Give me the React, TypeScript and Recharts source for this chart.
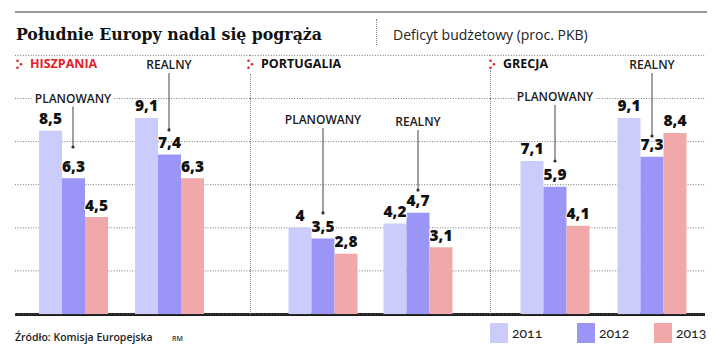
import React from 'react';
import { BarChart, Bar, XAxis, YAxis, CartesianGrid, LabelList, ReferenceLine, ReferenceDot } from 'recharts';

const years = ['2011', '2012', '2013'];
const groups = ['PLANOWANY', 'REALNY'];

const spainPlanned = [8.5, 6.3, 4.5];
const spainReal = [9.1, 7.4, 6.3];
const portugalPlanned = [4, 3.5, 2.8];
const portugalReal = [4.2, 4.7, 3.1];
const greecePlanned = [7.1, 5.9, 4.1];
const greeceReal = [9.1, 7.3, 8.4];

// where the PLANOWANY / REALNY captions and their pointer dots sit (in % of GDP)
const spainCaptionY = [10.0, 11.55];
const spainPointerY = [7.75, 8.54];
const portugalCaptionY = [9.0, 8.91];
const portugalPointerY = [4.69, 5.75];
const greeceCaptionY = [10.07, 11.55];
const greecePointerY = [7.1, 8.26];

const colors = ['#cbcbfc', '#9a95f7', '#f1a8ab'];
const SANS = '"Open Sans", "DejaVu Sans", sans-serif';

const toRows = (planned: number[], real: number[]) =>
  groups.map((g, i) => {
    const src = i === 0 ? planned : real;
    const row: any = { name: g };
    years.forEach((y, k) => (row['y' + y] = src[k]));
    return row;
  });

const ValueLabel = (p: any) => {
  const x = Number(p.x) + Number(p.width) / 2;
  const y = Number(p.y) - 6.5;
  return (
    <text
      x={x}
      y={y}
      textAnchor="middle"
      fontFamily={SANS}
      fontWeight={800}
      fontSize={15.5}
      fill="#111"
      stroke="#fff"
      strokeWidth={2}
      paintOrder="stroke"
    >
      {String(p.value).replace('.', ',')}
    </text>
  );
};

const captionShape = (text: string) => (p: any) => {
  const w = text.length * 8.1 + 8;
  return (
    <g>
      <rect x={p.cx - w / 2} y={p.cy - 8} width={w} height={16} fill="#fff" />
      <text
        x={p.cx}
        y={p.cy + 4.3}
        textAnchor="middle"
        fontFamily={SANS}
        fontWeight={600}
        fontSize={12}
        fill="#1a1a1a"
      >
        {text}
      </text>
    </g>
  );
};

interface PanelProps {
  left: number;
  width: number;
  padL: number;
  padR: number;
  planned: number[];
  real: number[];
  captionY: number[];
  pointerY: number[];
}

const Panel = ({ left, width, padL, padR, planned, real, captionY, pointerY }: PanelProps) => (
  <div style={{ position: 'absolute', left, top: 0 }}>
    <BarChart
      width={width}
      height={352}
      data={toRows(planned, real)}
      margin={{ top: 55.4, right: 0, bottom: 38, left: 0 }}
      barGap={0}
      barSize={23}
    >
      <CartesianGrid vertical={false} stroke="#777" strokeDasharray="1 1.6" />
      <XAxis dataKey="name" hide padding={{ left: padL, right: padR }} />
      <YAxis hide domain={[0, 12]} ticks={[2, 4, 6, 8, 10]} />
      {years.map((y, i) => (
        <Bar key={y} dataKey={'y' + y} fill={colors[i]} isAnimationActive={false}>
          <LabelList dataKey={'y' + y} content={ValueLabel} />
        </Bar>
      ))}
      {groups.map((g, i) => (
        <ReferenceLine
          key={'l' + g}
          segment={[
            { x: g, y: captionY[i] - 0.35 },
            { x: g, y: pointerY[i] },
          ]}
          stroke="#444"
          strokeWidth={1}
        />
      ))}
      {groups.map((g, i) => (
        <ReferenceDot key={'d' + g} x={g} y={pointerY[i]} r={1.6} fill="#333" stroke="none" />
      ))}
      {groups.map((g, i) => (
        <ReferenceDot key={'c' + g} x={g} y={captionY[i]} shape={captionShape(g)} />
      ))}
    </BarChart>
  </div>
);

const Marker = ({ left, top }: { left: number; top: number }) => (
  <svg style={{ position: 'absolute', left, top }} width={7} height={11}>
    <circle cx={1.5} cy={1.8} r={1.3} fill="#e3202a" />
    <circle cx={1.5} cy={8.8} r={1.3} fill="#e3202a" />
    <circle cx={5} cy={5.3} r={1.3} fill="#e3202a" />
  </svg>
);

const abs = (left: number, top: number, extra: React.CSSProperties = {}): React.CSSProperties => ({
  position: 'absolute',
  left,
  top,
  whiteSpace: 'nowrap',
  lineHeight: 1,
  ...extra,
});

export default function App() {
  return (
    <div style={{ position: 'absolute', left: 0, top: 0, width: 716, height: 352, background: '#fff', overflow: 'hidden' }}>
      <div style={abs(15, 11, { width: 692, height: 2, background: '#9a9a9a' })} />
      <div
        style={abs(16, 26, {
          fontFamily: '"DejaVu Serif Condensed", "DejaVu Serif", serif',
          fontStretch: 'condensed',
          fontWeight: 700,
          fontSize: 17.5,
          color: '#111',
        })}
      >
        Południe Europy nadal się pogrąża
      </div>
      <div style={abs(376, 19, { width: 0, height: 26, borderLeft: '1px dotted #888' })} />
      <div style={abs(393, 28, { fontFamily: SANS, fontSize: 14, color: '#222' })}>Deficyt budżetowy (proc. PKB)</div>

      <div style={abs(15, 313, { width: 690, height: 2.5, background: '#1a1a1a' })} />

      <Marker left={16} top={59} />
      <div style={abs(30, 58, { fontFamily: SANS, fontWeight: 700, fontSize: 12.5, color: '#e3202a' })}>HISZPANIA</div>
      <Marker left={247} top={59} />
      <div style={abs(261, 58, { fontFamily: SANS, fontWeight: 700, fontSize: 12.5, color: '#111' })}>PORTUGALIA</div>
      <Marker left={489} top={59} />
      <div style={abs(503, 58, { fontFamily: SANS, fontWeight: 700, fontSize: 12.5, color: '#111' })}>GRECJA</div>

      <div style={abs(250, 74, { width: 0, height: 240, borderLeft: '1px dotted #888' })} />
      <div style={abs(490, 70, { width: 0, height: 244, borderLeft: '1px dotted #888' })} />

      <Panel left={15} width={235} padL={10} padR={33} planned={spainPlanned} real={spainReal} captionY={spainCaptionY} pointerY={spainPointerY} />
      <Panel left={250} width={240} padL={25.5} padR={24.5} planned={portugalPlanned} real={portugalReal} captionY={portugalCaptionY} pointerY={portugalPointerY} />
      <Panel left={490} width={215} padL={16.5} padR={4.5} planned={greecePlanned} real={greeceReal} captionY={greeceCaptionY} pointerY={greecePointerY} />

      <div style={abs(15, 332, { fontFamily: SANS, fontWeight: 600, fontSize: 10.5, color: '#222' })}>Źródło: Komisja Europejska</div>
      <div style={abs(172, 335, { fontFamily: SANS, fontWeight: 600, fontSize: 7, color: '#333' })}>RM</div>

      {years.map((y, i) => {
        const lx = [490, 577, 654][i];
        return (
          <React.Fragment key={y}>
            <div style={abs(lx, 323, { width: 18, height: 20, background: colors[i] })} />
            <div
              style={abs(lx + 22, 326, {
                fontFamily: 'Lato, "Open Sans", sans-serif',
                fontVariantNumeric: 'oldstyle-nums',
                fontSize: 14,
                color: '#222',
              })}
            >
              {y}
            </div>
          </React.Fragment>
        );
      })}
    </div>
  );
}
